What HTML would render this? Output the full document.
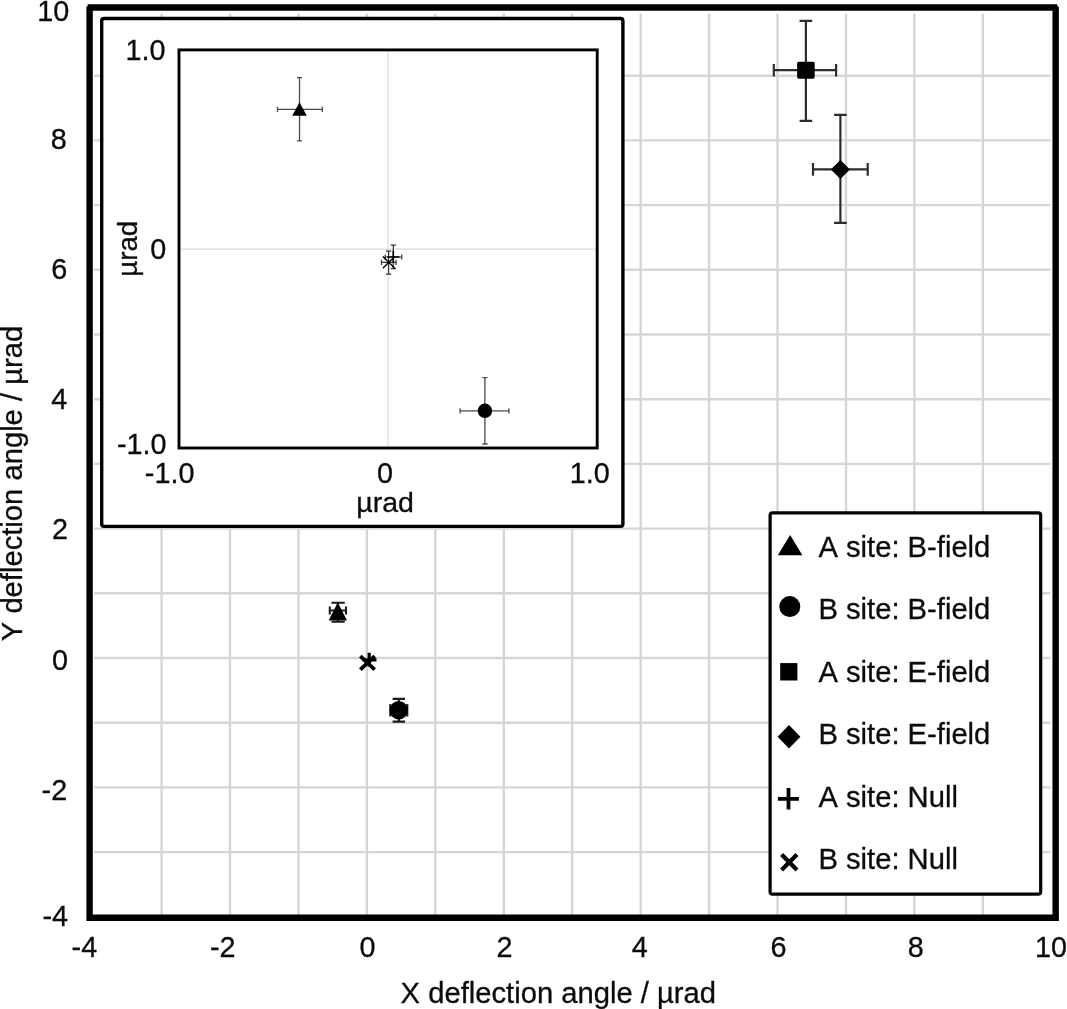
<!DOCTYPE html>
<html lang="en"><head><meta charset="utf-8"><title>Deflection angle chart</title>
<style>html,body{margin:0;padding:0;background:#fff}body{width:1067px;height:1009px;overflow:hidden}svg{display:block;filter:blur(0.4px)}text{font-family:"Liberation Sans",sans-serif;fill:#0c0c0c;stroke:#0c0c0c;stroke-width:0.3px;font-kerning:none;font-variant-ligatures:none}</style>
</head><body>
<svg width="1067" height="1009" viewBox="0 0 1067 1009">
<rect width="1067" height="1009" fill="#fff"/>
<g stroke="#d6d6d6" stroke-width="2.4" fill="none">
<line x1="161.6" y1="13.6" x2="161.6" y2="916"/>
<line x1="230.0" y1="13.6" x2="230.0" y2="916"/>
<line x1="298.5" y1="13.6" x2="298.5" y2="916"/>
<line x1="366.9" y1="13.6" x2="366.9" y2="916"/>
<line x1="435.3" y1="13.6" x2="435.3" y2="916"/>
<line x1="503.8" y1="13.6" x2="503.8" y2="916"/>
<line x1="572.2" y1="13.6" x2="572.2" y2="916"/>
<line x1="640.7" y1="13.6" x2="640.7" y2="916"/>
<line x1="709.1" y1="13.6" x2="709.1" y2="916"/>
<line x1="777.5" y1="13.6" x2="777.5" y2="916"/>
<line x1="846.0" y1="13.6" x2="846.0" y2="916"/>
<line x1="914.4" y1="13.6" x2="914.4" y2="916"/>
<line x1="982.9" y1="13.6" x2="982.9" y2="916"/>
<line x1="94" y1="852.1" x2="1050.5" y2="852.1"/>
<line x1="94" y1="787.4" x2="1050.5" y2="787.4"/>
<line x1="94" y1="722.7" x2="1050.5" y2="722.7"/>
<line x1="94" y1="658.0" x2="1050.5" y2="658.0"/>
<line x1="94" y1="593.3" x2="1050.5" y2="593.3"/>
<line x1="94" y1="528.6" x2="1050.5" y2="528.6"/>
<line x1="94" y1="463.9" x2="1050.5" y2="463.9"/>
<line x1="94" y1="399.2" x2="1050.5" y2="399.2"/>
<line x1="94" y1="334.5" x2="1050.5" y2="334.5"/>
<line x1="94" y1="269.8" x2="1050.5" y2="269.8"/>
<line x1="94" y1="205.1" x2="1050.5" y2="205.1"/>
<line x1="94" y1="140.4" x2="1050.5" y2="140.4"/>
<line x1="94" y1="75.7" x2="1050.5" y2="75.7"/>
</g>
<path d="M89.6 920.9 V6.5 M87.6 7.55 H1057.3 M1055.65 6.5 V920.9 M86.4 917.7 H1058.9" stroke="#000" stroke-width="6.4" fill="none"/>
<g stroke="#2c2c2c" stroke-width="2.2" fill="none"><path d="M773.8 70.2 H836.1 M773.8 63.9 V76.5 M836.1 63.9 V76.5 M805.9 20.9 V120.8 M799.6 20.9 H812.2 M799.6 120.8 H812.2"/></g>
<rect x="797.1" y="61.7" width="17.6" height="17" rx="1.6" fill="#000"/>
<g stroke="#2c2c2c" stroke-width="2.2" fill="none"><path d="M813 169.4 H867.7 M813 163.1 V175.7 M867.7 163.1 V175.7 M840.4 114.9 V222.9 M834.1 114.9 H846.7 M834.1 222.9 H846.7"/></g>
<path d="M840.4 159.9 L850 169.4 L840.4 178.9 L830.8 169.4 Z" fill="#000"/>
<path d="M329.8 610.5 H346 M329.8 606.6 V614.6 M346 606.6 V614.6 M337.8 602.7 V621.6 M331.4 602.7 H344.8 M331.4 621.7 H344.8" stroke="#1c1c1c" stroke-width="2.1" fill="none"/>
<path d="M337.8 602.6 L347 620.6 L328.6 620.6 Z" fill="#000"/>
<g stroke="#1c1c1c" stroke-width="2.1" fill="none"><path d="M390.3 710.3 H407.3 M390.3 704.1 V716.5 M407.3 704.1 V716.5 M398.8 698.9 V721.6 M392.6 698.9 H405.0 M392.6 721.6 H405.0"/></g>
<circle cx="398.8" cy="710.3" r="9.2" fill="#000"/>
<path d="M360.3 656.2 L374.7 669.6 M360.3 669.6 L374.7 656.2" stroke="#000" stroke-width="3.8" fill="none"/>
<path d="M362.5 659.8 H376.5 M369.2 652.8 V666.5" stroke="#000" stroke-width="3.2" fill="none"/>
<rect x="101.7" y="18.5" width="521.2" height="507.9" rx="2.4" fill="#fff" stroke="#000" stroke-width="3.4"/>
<path d="M388.1 51 V447 M180 249.2 H596" stroke="#d9d9d9" stroke-width="1.2" fill="none"/>
<rect x="179" y="49.9" width="418.2" height="398.1" fill="none" stroke="#000" stroke-width="2.9"/>
<g stroke="#4a4a4a" stroke-width="1.3" fill="none"><path d="M277.5 109.4 H322.3 M277.5 106.8 V112.0 M322.3 106.8 V112.0 M299.5 77.6 V140.8 M296.9 77.6 H302.1 M296.9 140.8 H302.1"/></g>
<path d="M299.5 102.2 L306.8 115.8 L292.2 115.8 Z" fill="#000"/>
<g stroke="#4a4a4a" stroke-width="1.3" fill="none"><path d="M460.1 410.8 H508.9 M460.1 408.2 V413.4 M508.9 408.2 V413.4 M484.9 377.7 V444 M482.3 377.7 H487.5 M482.3 444 H487.5"/></g>
<circle cx="484.9" cy="410.8" r="7.2" fill="#000"/>
<g stroke="#333" stroke-width="1.2" fill="none"><path d="M381.5 262.4 H396.1 M381.5 259.8 V265.0 M396.1 259.8 V265.0 M388.6 251.2 V274.1 M386.0 251.2 H391.2 M386.0 274.1 H391.2"/></g>
<g stroke="#333" stroke-width="1.2" fill="none"><path d="M385.2 257 H401.7 M385.2 254.4 V259.6 M401.7 254.4 V259.6 M393.3 245.2 V268.6 M390.7 245.2 H395.9 M390.7 268.6 H395.9"/></g>
<path d="M382.8 256.6 L394.8 268.2 M382.8 268.2 L394.8 256.6" stroke="#000" stroke-width="1.4" fill="none"/>
<path d="M387.3 257 H399.5 M393.3 250.8 V263" stroke="#000" stroke-width="1.6" fill="none"/>
<rect x="770.1" y="512.9" width="270.6" height="381.3" rx="2.5" fill="#fff" stroke="#000" stroke-width="3.2"/>
<path d="M790.1 535.1 L802.4 555.2 L777.8 555.2 Z" fill="#000"/>
<circle cx="789.8" cy="606.6" r="10.5" fill="#000"/>
<rect x="780.2" y="663.1" width="17.2" height="17.4" fill="#000"/>
<path d="M789 725 L800.4 736.8 L789 748.5 L777.6 736.8 Z" fill="#000"/>
<path d="M777.9 798.8 H798.9 M788.5 788 V809.5" stroke="#000" stroke-width="3.8" fill="none"/>
<path d="M781.6 854.4 L797 869.9 M781.6 869.9 L797 854.4" stroke="#000" stroke-width="4.2" fill="none"/>
<g font-size="29.2">
<text x="818.4" y="557.0">A site: B-field</text>
<text x="818.4" y="619.1">B site: B-field</text>
<text x="818.4" y="681.6">A site: E-field</text>
<text x="818.4" y="743.7">B site: E-field</text>
<text x="818.4" y="806.8">A site: Null</text>
<text x="818.4" y="869.3">B site: Null</text>
</g>
<text transform="translate(69.2 20.5) scale(1 1.03)" font-size="28.8" text-anchor="end">10</text>
<text transform="translate(66.7 149.2) scale(1 1.03)" font-size="28.8" text-anchor="end">8</text>
<text transform="translate(67.2 278.9) scale(1 1.03)" font-size="28.8" text-anchor="end">6</text>
<text transform="translate(67.2 408.5) scale(1 1.03)" font-size="28.8" text-anchor="end">4</text>
<text transform="translate(68.0 539.0) scale(1 1.03)" font-size="28.8" text-anchor="end">2</text>
<text transform="translate(67.9 669.7) scale(1 1.03)" font-size="28.8" text-anchor="end">0</text>
<text transform="translate(67.2 799.6) scale(1 1.03)" font-size="28.8" text-anchor="end">-2</text>
<text transform="translate(68.0 925.8) scale(1 1.03)" font-size="28.8" text-anchor="end">-4</text>
<text transform="translate(84.4 956.5) scale(1 1.03)" font-size="28.8" text-anchor="middle">-4</text>
<text transform="translate(222.8 956.5) scale(1 1.03)" font-size="28.8" text-anchor="middle">-2</text>
<text transform="translate(367.6 956.5) scale(1 1.03)" font-size="28.8" text-anchor="middle">0</text>
<text transform="translate(504.5 956.5) scale(1 1.03)" font-size="28.8" text-anchor="middle">2</text>
<text transform="translate(639.8 956.5) scale(1 1.03)" font-size="28.8" text-anchor="middle">4</text>
<text transform="translate(778.5 956.5) scale(1 1.03)" font-size="28.8" text-anchor="middle">6</text>
<text transform="translate(915.7 956.5) scale(1 1.03)" font-size="28.8" text-anchor="middle">8</text>
<text transform="translate(1051.0 956.5) scale(1 1.03)" font-size="28.8" text-anchor="middle">10</text>
<text x="400.6" y="1002.7" font-size="29.2">X deflection angle / µrad</text>
<text transform="translate(22.0 641.2) rotate(-90)" font-size="29.2">Y deflection angle / µrad</text>
<text transform="translate(165.6 60.1) scale(1 1.03)" font-size="28.8" text-anchor="end">1.0</text>
<text transform="translate(166.2 258.7) scale(1 1.03)" font-size="28.8" text-anchor="end">0</text>
<text transform="translate(166.6 453.9) scale(1 1.03)" font-size="28.8" text-anchor="end">-1.0</text>
<text transform="translate(169.6 482.9) scale(1 1.03)" font-size="28.8" text-anchor="middle">-1.0</text>
<text transform="translate(385.1 482.6) scale(1 1.03)" font-size="28.8" text-anchor="middle">0</text>
<text transform="translate(589.8 482.9) scale(1 1.03)" font-size="28.8" text-anchor="middle">1.0</text>
<text x="356.3" y="511.7" font-size="28.5">µrad</text>
<text transform="translate(137.4 276.7) rotate(-90)" font-size="27.6">µrad</text>
</svg></body></html>
